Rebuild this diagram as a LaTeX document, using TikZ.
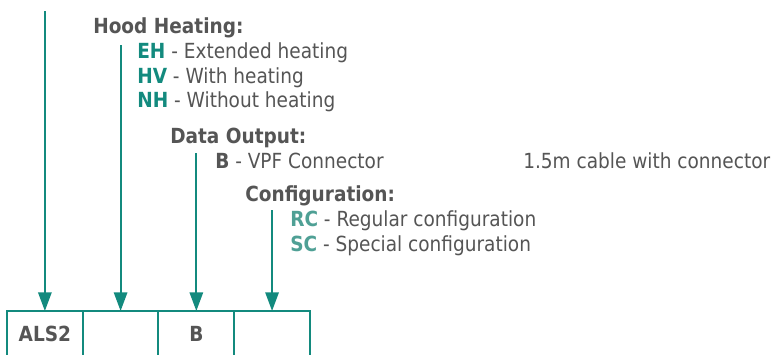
\documentclass[tikz,border=0pt]{standalone}
\usepackage{fontspec}
\setmainfont{DejaVu Sans}[FakeStretch=0.89]
\usetikzlibrary{arrows.meta}
\definecolor{teal1}{HTML}{138A7E}
\definecolor{teal2}{HTML}{4FA095}
\definecolor{txtgray}{HTML}{555555}
\begin{document}
\begin{tikzpicture}[x=0.75pt,y=-0.75pt,
  lbl/.style={anchor=base west, inner sep=0pt, text=txtgray, font=\fontsize{15.6pt}{18pt}\selectfont},
  head/.style={lbl, font=\bfseries\fontsize{15.6pt}{18pt}\selectfont},
  cell/.style={draw=teal1, line width=1.5pt, minimum width=56.8pt, minimum height=33.75pt, anchor=north west, inner sep=0pt, outer sep=0pt, text=txtgray, font=\bfseries\fontsize{15.6pt}{18pt}\selectfont},
  feed/.style={draw=teal1, line width=1.5pt, -{Triangle[length=14pt,width=10pt]}}]
\useasboundingbox (0,0) rectangle (772,354);
% code cells
\node[cell] (c1) at (7,311) {ALS2};
\node[cell] (c2) at (c1.north east) {};
\node[cell] (c3) at (c2.north east) {B};
\node[cell] (c4) at (c3.north east) {};
% labels
\node[head] (hh) at (93,33) {Hood Heating:};
\node[lbl] (eh) at (137,58.7) {\textcolor{teal1}{\bfseries EH} - Extended heating};
\node[lbl] (hv) at (137,83) {\textcolor{teal1}{\bfseries HV} - With heating};
\node[lbl] (nh) at (137,107.5) {\textcolor{teal1}{\bfseries NH} - Without heating};
\node[head] (do) at (170,143) {Data Output:};
\node[lbl] (vpf) at (215,168) {{\bfseries B} - VPF Connector};
\node[lbl] (cab) at (523,168) {1.5m cable with connector};
\node[head] (cf) at (245,201) {Configuration:};
\node[lbl] (rc) at (290,226.5) {\textcolor{teal2}{\bfseries RC} - Regular configuration};
\node[lbl] (sc) at (290,251.5) {\textcolor{teal2}{\bfseries SC} - Special configuration};
% feed lines
\path (c1.north) ++(0,-300) coordinate (s1);
\path (c2.north) ++(0,-266) coordinate (s2);
\path (c3.north) ++(0,-158) coordinate (s3);
\path (c4.north) ++(0,-101) coordinate (s4);
\draw[feed] (s1) -- (c1.north);
\draw[feed] (s2) -- (c2.north);
\draw[feed] (s3) -- (c3.north);
\draw[feed] (s4) -- (c4.north);
\end{tikzpicture}
\end{document}
